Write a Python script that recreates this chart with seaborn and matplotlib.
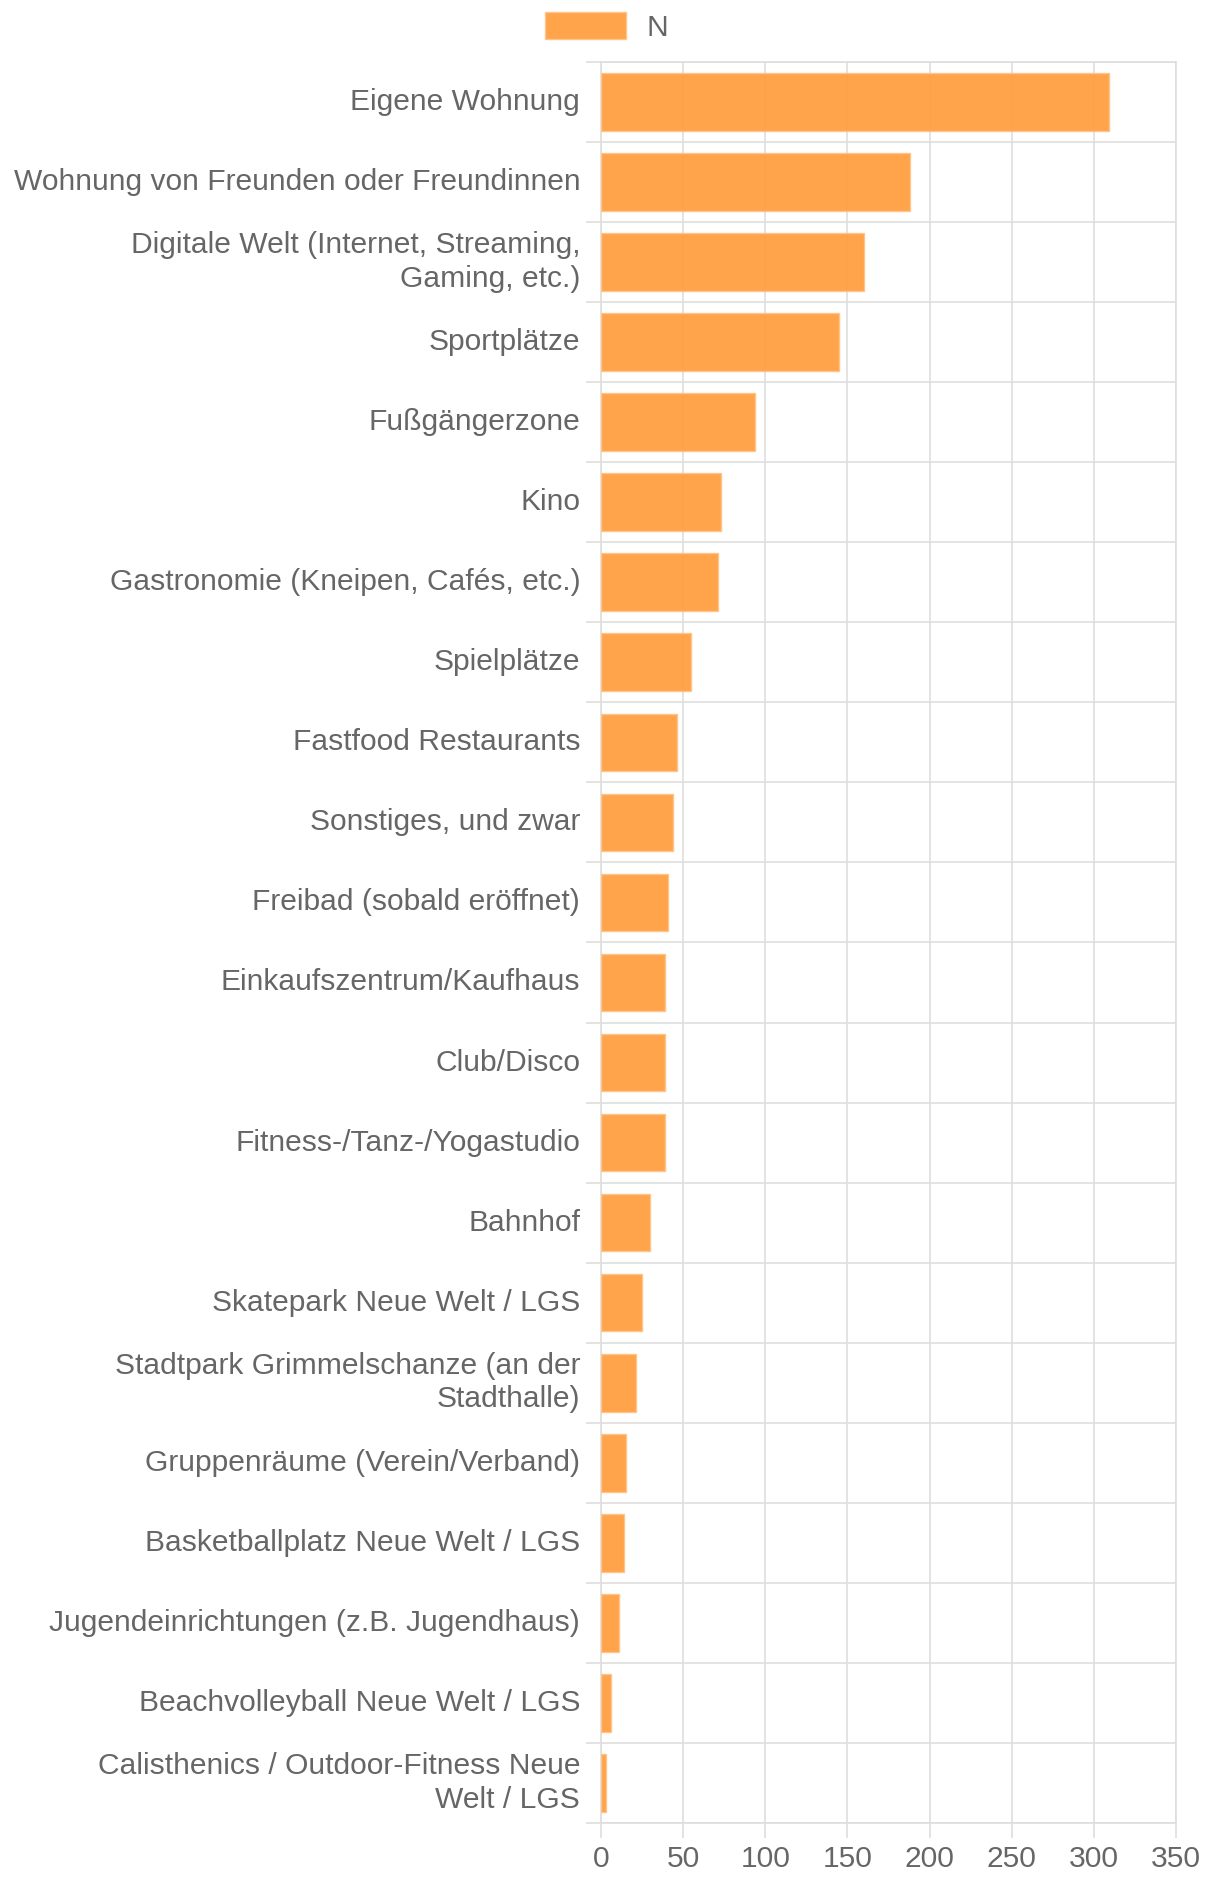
import pandas as pd
import numpy as np
import seaborn as sns
import matplotlib.pyplot as plt

# Daten: Orte und Anzahl Nennungen (N)
orte = [
    'Eigene Wohnung',
    'Wohnung von Freunden oder Freundinnen',
    'Digitale Welt (Internet, Streaming,\nGaming, etc.)',
    'Sportplätze',
    'Fußgängerzone',
    'Kino',
    'Gastronomie (Kneipen, Cafés, etc.)',
    'Spielplätze',
    'Fastfood Restaurants',
    'Sonstiges, und zwar',
    'Freibad (sobald eröffnet)',
    'Einkaufszentrum/Kaufhaus',
    'Club/Disco',
    'Fitness-/Tanz-/Yogastudio',
    'Bahnhof',
    'Skatepark Neue Welt / LGS',
    'Stadtpark Grimmelschanze (an der\nStadthalle)',
    'Gruppenräume (Verein/Verband)',
    'Basketballplatz Neue Welt / LGS',
    'Jugendeinrichtungen (z.B. Jugendhaus)',
    'Beachvolleyball Neue Welt / LGS',
    'Calisthenics / Outdoor-Fitness Neue\nWelt / LGS',
]
werte_n = [309, 188, 160, 145, 94, 73, 71, 55, 46, 44, 41,
           39, 39, 39, 30, 25, 21, 15, 14, 11, 6, 3]
x_ticks = [0, 50, 100, 150, 200, 250, 300, 350]

df = pd.DataFrame({'Ort': orte, 'N': werte_n})

# Stil
sns.set_style('white')
plt.rcParams['font.family'] = ['Liberation Sans', 'DejaVu Sans']
text_farbe = '#666666'
grid_farbe = '#dedede'
balken_farbe = '#ff9f40'
schrift = 21.6

fig, ax = plt.subplots(figsize=(12.13, 18.78), dpi=100)
fig.subplots_adjust(left=0.4955, right=0.9695, top=0.967, bottom=0.0293)

sns.barplot(data=df, x='N', y='Ort', orient='h', color=balken_farbe,
            width=0.72, saturation=1, edgecolor='#ffc48a', linewidth=1,
            alpha=0.95, label='N', ax=ax, zorder=3)
if ax.get_legend() is not None:
    ax.get_legend().remove()

ax.set_xlim(0, 350)
ax.set_ylim(len(orte) - 0.5, -0.5)
ax.set_xticks(x_ticks)
ax.set_xlabel('')
ax.set_ylabel('')

# Gitterlinien zwischen den Kategorien (Chart.js-Stil)
ax.set_yticks(np.arange(-0.5, len(orte)), minor=True)
ax.grid(which='minor', axis='y', color=grid_farbe, linewidth=1.2, zorder=0)
ax.grid(which='major', axis='x', color=grid_farbe, linewidth=1.2, zorder=0)
ax.grid(which='major', axis='y', visible=False)
ax.set_axisbelow(True)

ax.tick_params(axis='y', which='major', length=0, pad=15, labelsize=schrift, labelcolor=text_farbe)
ax.tick_params(axis='y', which='minor', length=11, width=1.2, color=grid_farbe, left=True)
ax.tick_params(axis='x', which='major', length=11, width=1.2, color=grid_farbe, bottom=True,
               pad=5, labelsize=schrift, labelcolor=text_farbe)
for lab in ax.get_yticklabels():
    lab.set_horizontalalignment('right')
    lab.set_multialignment('right')
    lab.set_linespacing(1.25)
    lab.set_verticalalignment('center')
    lab.set_y(lab.get_position()[1])

for s in ax.spines.values():
    s.set_color(grid_farbe)
    s.set_linewidth(1.2)

# Legende oben mittig
handles, labels = ax.get_legend_handles_labels()
fig.legend(handles[:1], labels[:1], loc='center', bbox_to_anchor=(0.5, 1 - 27 / 1878), frameon=False,
           fontsize=schrift, labelcolor=text_farbe, handlelength=2.7, handleheight=1.0,
           handletextpad=0.7)

plt.savefig('out.png', dpi=100)
